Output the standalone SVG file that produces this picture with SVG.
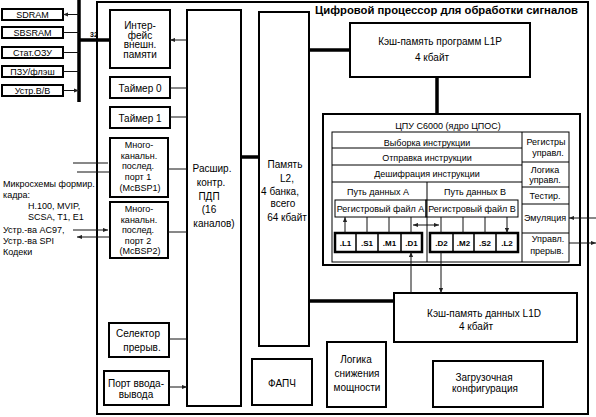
<svg xmlns="http://www.w3.org/2000/svg" width="596" height="417" viewBox="0 0 596 417">
<defs>
<marker id="ah" viewBox="0 0 6 6" refX="6" refY="3" markerWidth="5" markerHeight="5" markerUnits="userSpaceOnUse" orient="auto-start-reverse"><path d="M0,0.5 L6,3 L0,5.5z" fill="#222"/></marker>
</defs>
<style>
text{font-family:"Liberation Sans",Arial,sans-serif;fill:#000}
.b{fill:#fff;stroke:#000;stroke-width:2}
.t{fill:none;stroke:#000;stroke-width:1}
.l10{font-size:10px;text-anchor:middle}
.lm{font-size:9px;text-anchor:middle}
.l9{font-size:9px;text-anchor:middle}
.l8{font-size:8px;text-anchor:middle;font-weight:bold}
.lf{font-size:9px}
.c{fill:none;stroke:#111;stroke-width:1;marker-start:url(#ah);marker-end:url(#ah)}
.c1{fill:none;stroke:#111;stroke-width:1;marker-end:url(#ah)}
.bus{fill:none;stroke:#000;stroke-width:3.5}
</style>
<rect width="596" height="417" fill="#fff"/>
<rect id="dsp" x="97" y="2" width="491" height="412" class="b"/>
<text x="315" y="14" font-size="11" font-weight="bold" textLength="263" lengthAdjust="spacingAndGlyphs">Цифровой процессор для обработки сигналов</text>

<g id="mem-sdram"><rect x="2" y="9" width="61" height="11" class="b"/><text x="32.5" y="17.8" class="l9">SDRAM</text></g>
<g id="mem-sbsram"><rect x="2" y="27" width="61" height="11" class="b"/><text x="32.5" y="35.8" class="l9">SBSRAM</text></g>
<g id="mem-sram"><rect x="2" y="47" width="61" height="11" class="b"/><text x="32.5" y="55.8" class="l9">Стат.ОЗУ</text></g>
<g id="mem-rom"><rect x="2" y="66" width="61" height="11" class="b"/><text x="32.5" y="74.8" class="l9">ПЗУ/флэш</text></g>
<g id="mem-io"><rect x="2" y="85" width="61" height="11" class="b"/><text x="32.5" y="93.8" class="l9">Устр.В/В</text></g>

<g id="emif"><rect x="110" y="10" width="60" height="58" class="b"/>
<text class="l10" x="140" y="28.5">Интер-</text><text class="l10" x="140" y="38.5">фейс</text><text class="l10" x="140" y="48">внешн.</text><text class="l10" x="140" y="58">памяти</text></g>
<g id="timer0"><rect x="110" y="77" width="60" height="21" class="b"/><text class="l10" x="140" y="91.5">Таймер 0</text></g>
<g id="timer1"><rect x="110" y="107" width="60" height="21" class="b"/><text class="l10" x="140" y="121.5">Таймер 1</text></g>
<g id="mcbsp1"><rect x="110" y="138" width="58" height="59" class="b"/>
<text class="lm" x="139" y="148">Много-</text><text class="lm" x="139" y="158.5">канальн.</text><text class="lm" x="138" y="169">послед.</text><text class="lm" x="138" y="179.5">порт 1</text><text class="lm" x="140" y="191">(McBSP1)</text></g>
<g id="mcbsp2"><rect x="110" y="202" width="58" height="56" class="b"/>
<text class="lm" x="139" y="212">Много-</text><text class="lm" x="139" y="222.5">канальн.</text><text class="lm" x="138" y="233">послед.</text><text class="lm" x="138" y="243.5">порт 2</text><text class="lm" x="140" y="254">(McBSP2)</text></g>
<g id="intsel"><rect x="109" y="323" width="60" height="34" class="b"/><text class="l10" x="138" y="336.5">Селектор</text><text class="l10" x="142" y="350.5">прерыв.</text></g>
<g id="gpio"><rect x="104" y="371" width="65" height="34" class="b"/><text class="l10" x="136" y="386.5">Порт ввода-</text><text class="l10" x="136" y="398">вывода</text></g>

<g id="edma"><rect x="187" y="10" width="54" height="396" class="b"/>
<text class="l10" x="212" y="171.5">Расшир.</text><text class="l10" x="211" y="185.5">контр.</text><text class="l10" x="209" y="199.5">ПДП</text><text class="l10" x="209" y="212.5">(16</text><text class="l10" x="214" y="226.5">каналов)</text></g>
<g id="l2"><rect x="259" y="12" width="50" height="334" class="b"/>
<text class="l10" x="285" y="167.5">Память</text><text class="l10" x="287" y="181.5">L2,</text><text class="l10" x="280" y="194.5">4 банка,</text><text class="l10" x="283" y="206.5">всего</text><text class="l10" x="287" y="220.5">64 кбайт</text></g>

<g id="l1p"><rect x="350" y="23" width="180" height="54" class="b"/><text class="l10" x="440" y="44.5">Кэш-память программ L1P</text><text class="l10" x="432" y="60.5">4 кбайт</text></g>
<g id="l1d"><rect x="394" y="293" width="183" height="49" class="b"/><text class="l10" x="484" y="316.5">Кэш-память данных L1D</text><text class="l10" x="476" y="329.5">4 кбайт</text></g>

<g id="cpu">
<rect x="323" y="114" width="257" height="151" class="b" stroke-width="2.5"/>
<text class="l9" x="448" y="128.5" font-size="9.5">ЦПУ C6000 (ядро ЦПОС)</text>
<rect x="332" y="132" width="237" height="130" class="t"/>
<path class="t" d="M522,132V262M332,148H522M332,165H522M332,182H522M522,162H569M522,187H569M522,204H569M522,233H569M427,182V262"/>
<text class="l9" x="427" y="145.5">Выборка инструкции</text>
<text class="l9" x="427" y="160.5">Отправка инструкции</text>
<text class="l9" x="427" y="176.5">Дешифрация инструкции</text>
<text class="l9" x="378" y="194.5">Путь данных A</text>
<text class="l9" x="475" y="194.5">Путь данных B</text>
<text class="l9" x="546" y="144.5">Регистры</text><text class="l9" x="548" y="155.5">управл.</text>
<text class="l9" x="545" y="173" font-size="8">Логика</text><text class="l9" x="545" y="182.5" font-size="8">управл.</text>
<text class="l9" x="545" y="198.5">Тестир.</text>
<text class="l9" x="545" y="220.5">Эмуляция</text>
<text class="l9" x="548" y="241.5">Управл.</text><text class="l9" x="547" y="253.5">прерыв.</text>
<rect x="335" y="200" width="91" height="17" class="t"/>
<rect x="426" y="200" width="92" height="17" class="t"/>
<text class="l9" x="380.5" y="212">Регистровый файл A</text>
<text class="l9" x="472" y="212">Регистровый файл B</text>
<rect x="335" y="233" width="87" height="19" fill="#fff" stroke="#000" stroke-width="2.5"/>
<path d="M356,233V252M378,233V252M401,233V252M453,233V252M474,233V252M496,233V252" stroke="#000" stroke-width="1.5"/>
<rect x="430" y="233" width="88" height="19" fill="none" stroke="#000" stroke-width="2.5"/>
<text class="l8" x="345.5" y="245.5">.L1</text><text class="l8" x="367" y="245.5">.S1</text><text class="l8" x="389.5" y="245.5">.M1</text><text class="l8" x="411.5" y="245.5">.D1</text>
<text class="l8" x="441.5" y="245.5">.D2</text><text class="l8" x="463.5" y="245.5">.M2</text><text class="l8" x="485" y="245.5">.S2</text><text class="l8" x="507" y="245.5">.L2</text>
</g>

<g id="pll"><rect x="252" y="359" width="60" height="46" class="b"/><text class="l10" x="282" y="386.5">ФАПЧ</text></g>
<g id="power"><rect x="327" y="342" width="59" height="65" class="b"/><text class="l10" x="356" y="362.5">Логика</text><text class="l10" x="357" y="377" font-size="10.5">снижения</text><text class="l10" x="357" y="390.5" font-size="10.5">мощности</text></g>
<g id="boot"><rect x="433" y="361" width="110" height="46" class="b"/><text class="l10" x="484" y="380.5">Загрузочная</text><text class="l10" x="485" y="391.5">конфигурация</text></g>

<g id="ext-labels">
<text class="lf" x="3" y="187">Микросхемы формир.</text>
<text class="lf" x="3" y="198">кадра:</text>
<text class="lf" x="28" y="208.5">H.100, MVIP,</text>
<text class="lf" x="28" y="219.5">SCSA, T1, E1</text>
<text class="lf" x="3" y="233">Устр.-ва AC97,</text>
<text class="lf" x="3" y="244">Устр.-ва SPI</text>
<text class="lf" x="3" y="255">Кодеки</text>
</g>

<g id="connectors">
<path class="bus" d="M79,0V102" stroke-width="2.5"/>
<path class="bus" d="M79,40H110" stroke-width="3"/>
<text x="90" y="37" font-size="7" font-weight="bold">32</text>
<path class="c" d="M63,14.5H79M63,32.5H79M63,52.5H79M63,71.5H79M63,90.5H79"/>
<path class="c" d="M170,40H187M170,88H187M170,117H187M168,169H187M168,232H187M169,339H187M169,387H187"/>
<path class="c1" d="M73,163H108M73,230H108"/>
<path class="c1" d="M110,172H77M110,237H77"/>
<path class="bus" d="M241,157H259M309,50H350M309,301H394M437,77V114"/>
<path class="c" d="M345,217V233M367,217V233M389,217V233M411,217V233M441,217V233M463,217V233M485,217V233M507,217V233"/>
<path class="c" d="M413,225H439"/>
<path class="c" d="M411,252V293M441,252V293"/>
<path class="c" d="M569,218H596M569,243H596"/>
</g>
</svg>
